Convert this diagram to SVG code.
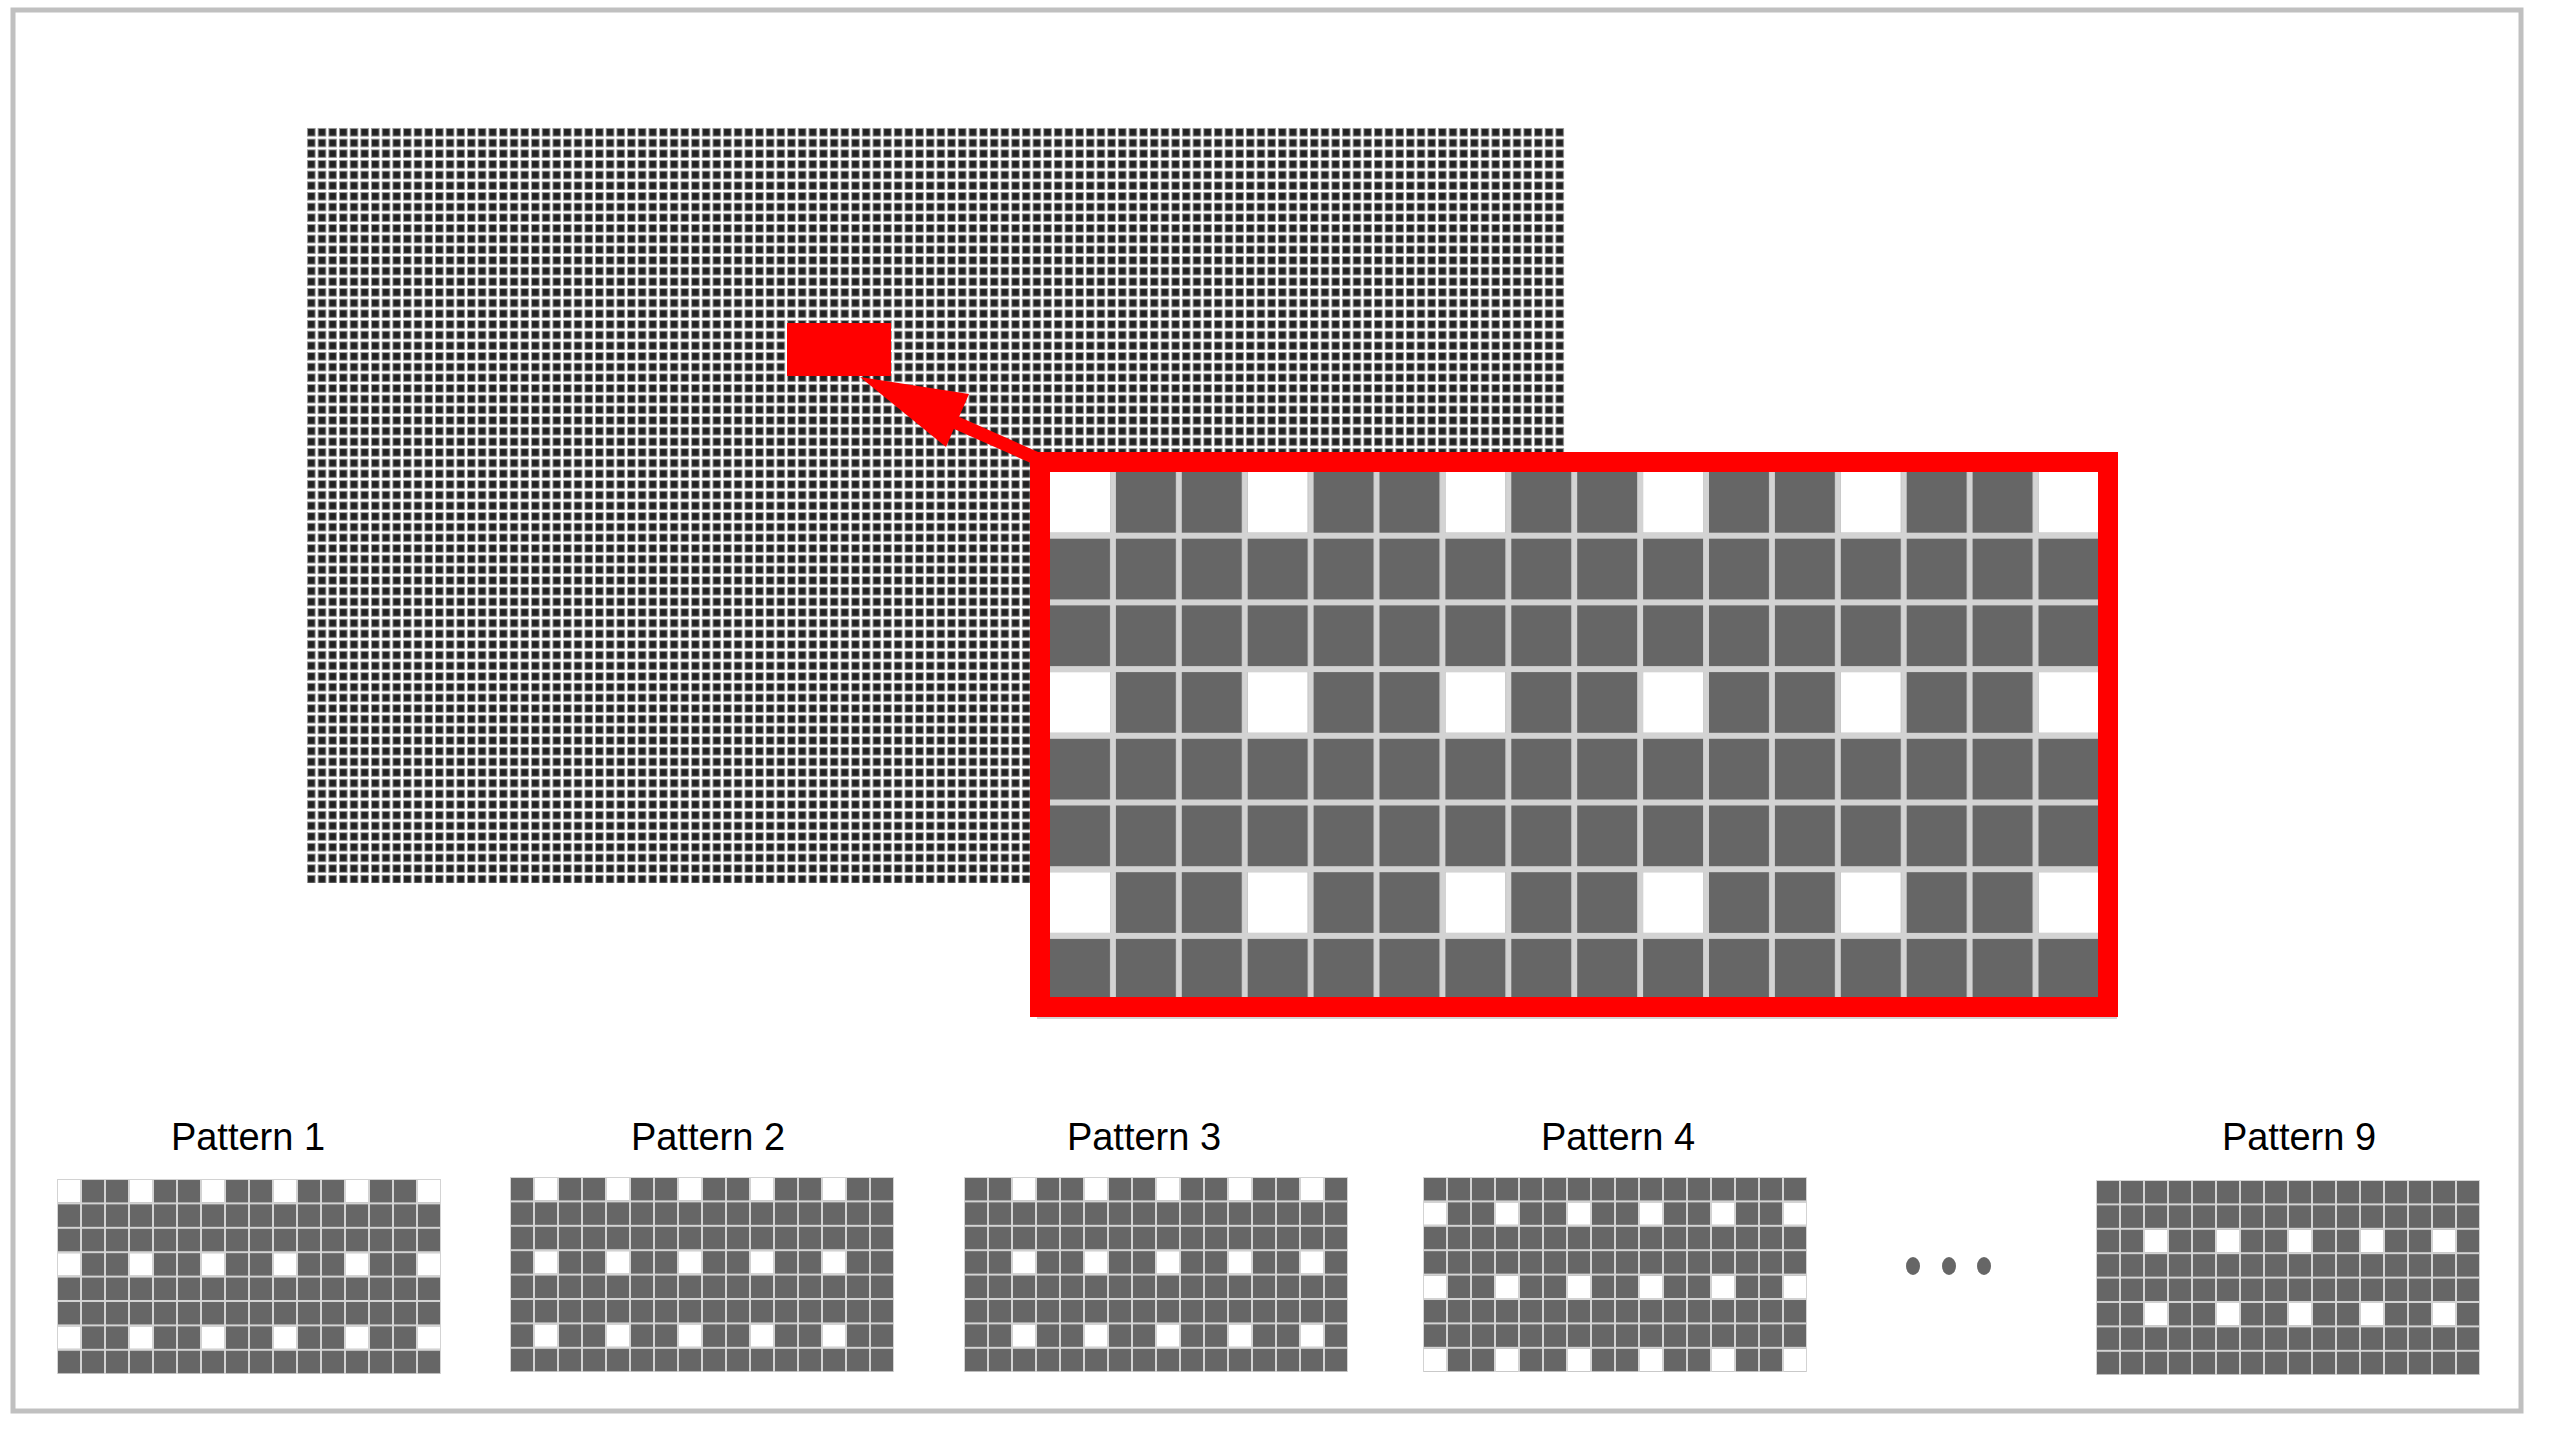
<svg xmlns="http://www.w3.org/2000/svg" width="2560" height="1440" viewBox="0 0 2560 1440">
<defs>
<pattern id="pbig" patternUnits="userSpaceOnUse" width="10.67" height="10.67" x="306" y="127"><rect x="1.5" y="1.5" width="7.6" height="7.6" fill="#222" stroke="#999" stroke-width="1"/></pattern>
<pattern id="pc" patternUnits="userSpaceOnUse" width="24" height="24.4"><rect x="1" y="1" width="22" height="22.4" fill="#666"/></pattern>
<pattern id="pz" patternUnits="userSpaceOnUse" width="65.9" height="66.7"><rect x="3" y="3" width="60" height="60.7" fill="#666"/></pattern>
</defs>
<style>
.lbl{font-family:"Liberation Sans",Arial,sans-serif;font-size:38px;fill:#000;text-anchor:middle}
.w{fill:#fff}
.bg{fill:#d3d3d3}
</style>
<rect x="13" y="10" width="2508" height="1401" fill="#fff" stroke="#c0c0c0" stroke-width="5"/>
<g id="image">
<rect x="306" y="127" width="1259" height="756" fill="url(#pbig)"/>
<rect x="787" y="323" width="104" height="53" fill="#f00"/>
</g>
<g id="connectors">
<line x1="1040" y1="460" x2="950" y2="420" stroke="#f00" stroke-width="13"/>
<polygon points="860,377 969,394 946,447" fill="#f00"/>
</g>
<g id="zoom">
<g transform="translate(1047,469)">
<rect x="-10" y="-10" width="1080" height="560" class="bg"/>
<rect x="0" y="0" width="1060" height="540" fill="url(#pz)"/>
<g class="w">
<rect x="3" y="3" width="60" height="60.7"/><rect x="200.7" y="3" width="60" height="60.7"/><rect x="398.4" y="3" width="60" height="60.7"/><rect x="596.1" y="3" width="60" height="60.7"/><rect x="793.8" y="3" width="60" height="60.7"/><rect x="991.5" y="3" width="60" height="60.7"/>
<rect x="3" y="203.1" width="60" height="60.7"/><rect x="200.7" y="203.1" width="60" height="60.7"/><rect x="398.4" y="203.1" width="60" height="60.7"/><rect x="596.1" y="203.1" width="60" height="60.7"/><rect x="793.8" y="203.1" width="60" height="60.7"/><rect x="991.5" y="203.1" width="60" height="60.7"/>
<rect x="3" y="403.2" width="60" height="60.7"/><rect x="200.7" y="403.2" width="60" height="60.7"/><rect x="398.4" y="403.2" width="60" height="60.7"/><rect x="596.1" y="403.2" width="60" height="60.7"/><rect x="793.8" y="403.2" width="60" height="60.7"/><rect x="991.5" y="403.2" width="60" height="60.7"/>
</g>
</g>
<rect x="1040" y="462" width="1068" height="545" fill="none" stroke="#f00" stroke-width="20"/>
</g>
<g id="pattern1">
<text class="lbl" x="248" y="1150">Pattern 1</text>
<g transform="translate(57,1179)">
<rect width="384" height="195" class="bg"/><rect width="384" height="195" fill="url(#pc)"/>
<g class="w">
<rect x="1" y="1" width="22" height="22.4"/><rect x="73" y="1" width="22" height="22.4"/><rect x="145" y="1" width="22" height="22.4"/><rect x="217" y="1" width="22" height="22.4"/><rect x="289" y="1" width="22" height="22.4"/><rect x="361" y="1" width="22" height="22.4"/>
<rect x="1" y="74.2" width="22" height="22.4"/><rect x="73" y="74.2" width="22" height="22.4"/><rect x="145" y="74.2" width="22" height="22.4"/><rect x="217" y="74.2" width="22" height="22.4"/><rect x="289" y="74.2" width="22" height="22.4"/><rect x="361" y="74.2" width="22" height="22.4"/>
<rect x="1" y="147.4" width="22" height="22.4"/><rect x="73" y="147.4" width="22" height="22.4"/><rect x="145" y="147.4" width="22" height="22.4"/><rect x="217" y="147.4" width="22" height="22.4"/><rect x="289" y="147.4" width="22" height="22.4"/><rect x="361" y="147.4" width="22" height="22.4"/>
</g></g>
</g>
<g id="pattern2">
<text class="lbl" x="708" y="1150">Pattern 2</text>
<g transform="translate(510,1177)">
<rect width="384" height="195" class="bg"/><rect width="384" height="195" fill="url(#pc)"/>
<g class="w">
<rect x="25" y="1" width="22" height="22.4"/><rect x="97" y="1" width="22" height="22.4"/><rect x="169" y="1" width="22" height="22.4"/><rect x="241" y="1" width="22" height="22.4"/><rect x="313" y="1" width="22" height="22.4"/>
<rect x="25" y="74.2" width="22" height="22.4"/><rect x="97" y="74.2" width="22" height="22.4"/><rect x="169" y="74.2" width="22" height="22.4"/><rect x="241" y="74.2" width="22" height="22.4"/><rect x="313" y="74.2" width="22" height="22.4"/>
<rect x="25" y="147.4" width="22" height="22.4"/><rect x="97" y="147.4" width="22" height="22.4"/><rect x="169" y="147.4" width="22" height="22.4"/><rect x="241" y="147.4" width="22" height="22.4"/><rect x="313" y="147.4" width="22" height="22.4"/>
</g></g>
</g>
<g id="pattern3">
<text class="lbl" x="1144" y="1150">Pattern 3</text>
<g transform="translate(964,1177)">
<rect width="384" height="195" class="bg"/><rect width="384" height="195" fill="url(#pc)"/>
<g class="w">
<rect x="49" y="1" width="22" height="22.4"/><rect x="121" y="1" width="22" height="22.4"/><rect x="193" y="1" width="22" height="22.4"/><rect x="265" y="1" width="22" height="22.4"/><rect x="337" y="1" width="22" height="22.4"/>
<rect x="49" y="74.2" width="22" height="22.4"/><rect x="121" y="74.2" width="22" height="22.4"/><rect x="193" y="74.2" width="22" height="22.4"/><rect x="265" y="74.2" width="22" height="22.4"/><rect x="337" y="74.2" width="22" height="22.4"/>
<rect x="49" y="147.4" width="22" height="22.4"/><rect x="121" y="147.4" width="22" height="22.4"/><rect x="193" y="147.4" width="22" height="22.4"/><rect x="265" y="147.4" width="22" height="22.4"/><rect x="337" y="147.4" width="22" height="22.4"/>
</g></g>
</g>
<g id="pattern4">
<text class="lbl" x="1618" y="1150">Pattern 4</text>
<g transform="translate(1423,1177)">
<rect width="384" height="195" class="bg"/><rect width="384" height="195" fill="url(#pc)"/>
<g class="w">
<rect x="1" y="25.4" width="22" height="22.4"/><rect x="73" y="25.4" width="22" height="22.4"/><rect x="145" y="25.4" width="22" height="22.4"/><rect x="217" y="25.4" width="22" height="22.4"/><rect x="289" y="25.4" width="22" height="22.4"/><rect x="361" y="25.4" width="22" height="22.4"/>
<rect x="1" y="98.6" width="22" height="22.4"/><rect x="73" y="98.6" width="22" height="22.4"/><rect x="145" y="98.6" width="22" height="22.4"/><rect x="217" y="98.6" width="22" height="22.4"/><rect x="289" y="98.6" width="22" height="22.4"/><rect x="361" y="98.6" width="22" height="22.4"/>
<rect x="1" y="171.8" width="22" height="22.4"/><rect x="73" y="171.8" width="22" height="22.4"/><rect x="145" y="171.8" width="22" height="22.4"/><rect x="217" y="171.8" width="22" height="22.4"/><rect x="289" y="171.8" width="22" height="22.4"/><rect x="361" y="171.8" width="22" height="22.4"/>
</g></g>
</g>
<g id="ellipsis" fill="#666">
<ellipse cx="1913" cy="1266" rx="7" ry="9"/><ellipse cx="1949" cy="1266" rx="7" ry="9"/><ellipse cx="1984" cy="1266" rx="7" ry="9"/>
</g>
<g id="pattern9">
<text class="lbl" x="2299" y="1150">Pattern 9</text>
<g transform="translate(2096,1180)">
<rect width="384" height="195" class="bg"/><rect width="384" height="195" fill="url(#pc)"/>
<g class="w">
<rect x="49" y="49.8" width="22" height="22.4"/><rect x="121" y="49.8" width="22" height="22.4"/><rect x="193" y="49.8" width="22" height="22.4"/><rect x="265" y="49.8" width="22" height="22.4"/><rect x="337" y="49.8" width="22" height="22.4"/>
<rect x="49" y="123" width="22" height="22.4"/><rect x="121" y="123" width="22" height="22.4"/><rect x="193" y="123" width="22" height="22.4"/><rect x="265" y="123" width="22" height="22.4"/><rect x="337" y="123" width="22" height="22.4"/>
</g></g>
</g>
</svg>
